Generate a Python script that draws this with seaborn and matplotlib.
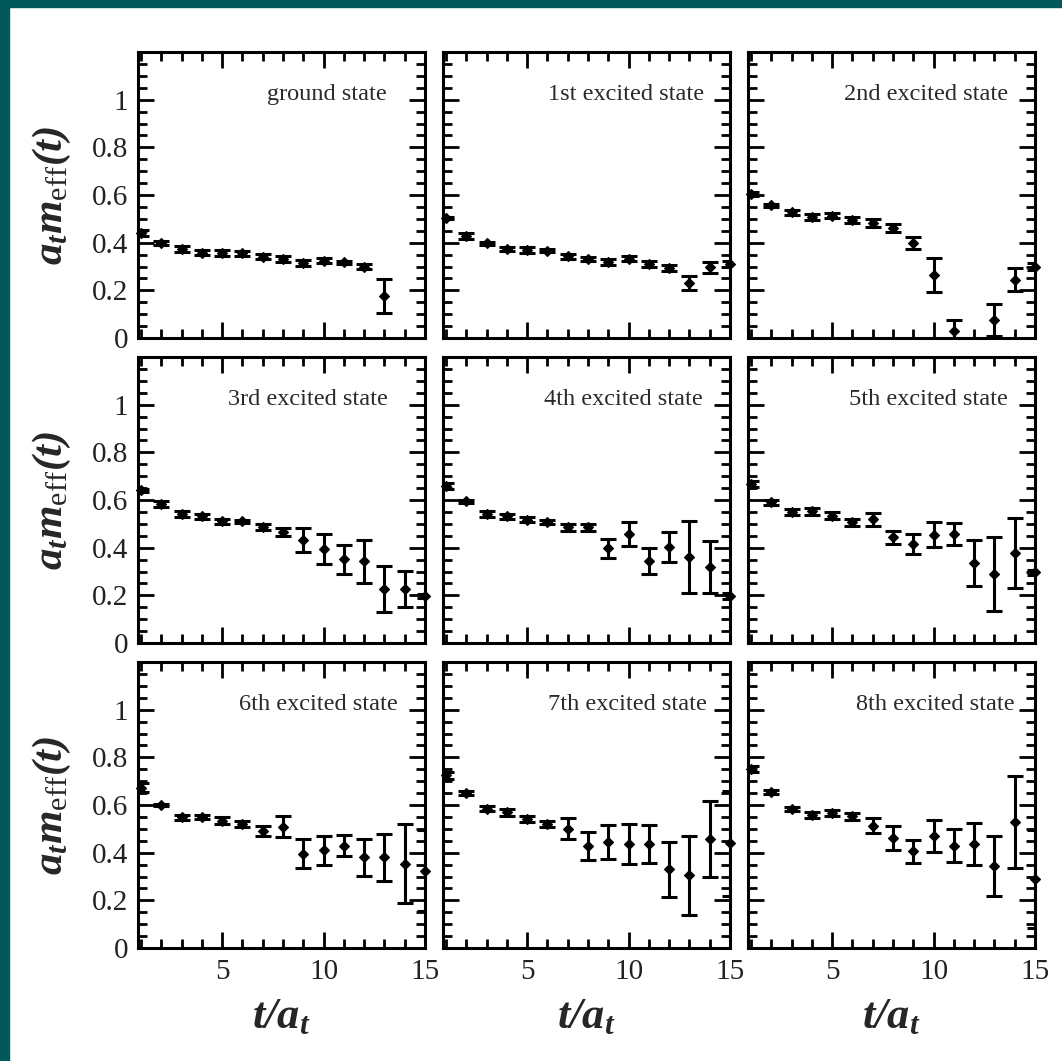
import numpy as np
import pandas as pd
import matplotlib
matplotlib.use("Agg")
import matplotlib.pyplot as plt
from matplotlib.patches import Rectangle
from matplotlib.ticker import MultipleLocator, FixedLocator, FuncFormatter
import seaborn as sns

# effective masses, t/a_t = 1..15 (nan = off the plot)
t = list(range(1, 16))
nan = np.nan

states = ["ground state", "1st excited state", "2nd excited state",
          "3rd excited state", "4th excited state", "5th excited state",
          "6th excited state", "7th excited state", "8th excited state"]

m_ground = [0.44, 0.40, 0.373, 0.358, 0.357, 0.356, 0.341, 0.332, 0.316, 0.325, 0.318, 0.30, 0.176, nan, nan]
e_ground = [0.012, 0.008, 0.012, 0.010, 0.012, 0.010, 0.010, 0.012, 0.012, 0.010, 0.006, 0.012, 0.070, nan, nan]

m_1st = [0.503, 0.429, 0.398, 0.373, 0.37, 0.367, 0.342, 0.33, 0.32, 0.333, 0.31, 0.293, 0.23, 0.297, 0.31]
e_1st = [0.005, 0.012, 0.006, 0.008, 0.012, 0.007, 0.012, 0.008, 0.012, 0.009, 0.012, 0.012, 0.030, 0.023, 0.012]

m_2nd = [0.605, 0.556, 0.527, 0.507, 0.513, 0.496, 0.482, 0.461, 0.398, 0.265, 0.03, nan, 0.076, 0.244, 0.30]
e_2nd = [0.008, 0.008, 0.012, 0.012, 0.010, 0.012, 0.018, 0.016, 0.026, 0.071, 0.044, nan, 0.066, 0.048, 0.015]

m_3rd = [0.64, 0.583, 0.542, 0.531, 0.51, 0.51, 0.486, 0.465, 0.433, 0.394, 0.352, 0.342, 0.226, 0.226, 0.197]
e_3rd = [0.006, 0.012, 0.012, 0.010, 0.010, 0.008, 0.012, 0.018, 0.050, 0.062, 0.061, 0.092, 0.096, 0.077, 0.010]

m_4th = [0.66, 0.595, 0.542, 0.531, 0.517, 0.508, 0.485, 0.485, 0.398, 0.457, 0.345, 0.402, 0.36, 0.318, 0.197]
e_4th = [0.012, 0.006, 0.012, 0.010, 0.010, 0.010, 0.015, 0.015, 0.040, 0.050, 0.055, 0.062, 0.152, 0.110, 0.012]

m_5th = [0.668, 0.591, 0.549, 0.552, 0.534, 0.506, 0.52, 0.444, 0.416, 0.454, 0.457, 0.335, 0.289, 0.377, 0.296]
e_5th = [0.012, 0.010, 0.012, 0.014, 0.014, 0.014, 0.027, 0.028, 0.041, 0.053, 0.047, 0.096, 0.155, 0.147, 0.012]

m_6th = [0.673, 0.60, 0.548, 0.55, 0.534, 0.52, 0.492, 0.508, 0.396, 0.41, 0.429, 0.38, 0.38, 0.354, 0.324]
e_6th = [0.020, 0.005, 0.012, 0.010, 0.014, 0.014, 0.020, 0.044, 0.060, 0.060, 0.044, 0.078, 0.100, 0.166, 0.170]

m_7th = [0.725, 0.65, 0.585, 0.569, 0.541, 0.52, 0.501, 0.429, 0.445, 0.436, 0.436, 0.33, 0.305, 0.459, 0.44]
e_7th = [0.014, 0.008, 0.012, 0.014, 0.014, 0.012, 0.043, 0.059, 0.072, 0.085, 0.080, 0.115, 0.167, 0.159, 0.220]

m_8th = [0.75, 0.655, 0.583, 0.559, 0.566, 0.552, 0.513, 0.461, 0.405, 0.47, 0.429, 0.436, 0.345, 0.53, 0.291]
e_8th = [0.012, 0.008, 0.010, 0.012, 0.012, 0.016, 0.032, 0.049, 0.049, 0.069, 0.070, 0.087, 0.126, 0.193, 0.206]

masses = [m_ground, m_1st, m_2nd, m_3rd, m_4th, m_5th, m_6th, m_7th, m_8th]
errors = [e_ground, e_1st, e_2nd, e_3rd, e_4th, e_5th, e_6th, e_7th, e_8th]

# label x-anchor (axes fraction), the labels are not all aligned in the original
label_x = [0.868, 0.909, 0.906, 0.871, 0.906, 0.906, 0.906, 0.92, 0.93]

sns.set_style("ticks")
plt.rcParams["font.family"] = ["Liberation Serif", "DejaVu Serif"]
plt.rcParams["mathtext.fontset"] = "custom"
plt.rcParams["mathtext.rm"] = "Liberation Serif"
plt.rcParams["mathtext.it"] = "Liberation Serif:italic"
plt.rcParams["mathtext.bf"] = "Liberation Serif:bold"
plt.rcParams["mathtext.bfit"] = "Liberation Serif:italic:bold"

W, H = 1062, 1061
fig = plt.figure(figsize=(W / 100, H / 100), dpi=100, facecolor="white")

teal = "#02585a"
fig.add_artist(Rectangle((0, 1 - 7 / H), 1, 7 / H, transform=fig.transFigure, color=teal, zorder=0))
fig.add_artist(Rectangle((0, 0), 9 / W, 1, transform=fig.transFigure, color=teal, zorder=0))

col_left = [138, 443, 748]
row_top = [52, 357, 662]
pw, ph = 287, 286

fmt = FuncFormatter(lambda v, p: "%g" % round(v, 2))

for i, name in enumerate(states):
    r, c = divmod(i, 3)
    ax = fig.add_axes([col_left[c] / W, 1 - (row_top[r] + ph) / H, pw / W, ph / H])
    df = pd.DataFrame({"t": t, "m": masses[i], "err": errors[i]}).dropna()

    ax.errorbar(df["t"], df["m"], yerr=df["err"], fmt="none", ecolor="black",
                elinewidth=2.2, capsize=5.5, capthick=2.2, zorder=3)
    sns.scatterplot(data=df, x="t", y="m", ax=ax, marker="D", s=26, color="black",
                    edgecolor="black", linewidth=0.8, zorder=4, clip_on=False, legend=False)

    ax.set_xlim(0.85, 15.0)
    ax.set_ylim(0, 1.2)
    ax.xaxis.set_major_locator(FixedLocator([5, 10, 15]))
    ax.xaxis.set_minor_locator(MultipleLocator(1))
    ax.yaxis.set_major_locator(FixedLocator([0, 0.2, 0.4, 0.6, 0.8, 1.0]))
    ax.yaxis.set_minor_locator(MultipleLocator(0.05))
    ax.yaxis.set_major_formatter(fmt)
    ax.tick_params(which="both", direction="in", top=True, right=True, width=2.0,
                   color="black", labelsize=21, labelcolor="#222222")
    ax.tick_params(which="major", length=11.5)
    ax.tick_params(axis="y", which="major", pad=7)
    ax.tick_params(axis="x", which="major", pad=8)
    ax.tick_params(which="minor", length=6.5)
    for s in ax.spines.values():
        s.set_linewidth(2.2)
        s.set_color("black")
    ax.set_xlabel("")
    ax.set_ylabel("")
    if c != 0:
        ax.tick_params(axis="y", labelleft=False)
    if r != 2:
        ax.tick_params(axis="x", labelbottom=False)

    ax.text(label_x[i], 0.853, name, transform=ax.transAxes, ha="right", va="center",
            fontsize=17.5, color="#2a2a2a")

ylab = r"$\mathbfit{a}_{\mathbfit{t}}\mathbfit{m}_{\mathrm{eff}}\mathbfit{(t)}$"
for r in range(3):
    yc = 1 - (row_top[r] + ph / 2) / H
    fig.text(52 / W, yc, ylab, rotation=90, ha="center", va="center", fontsize=31)

xlab = r"$\mathbfit{t/a}_{\mathbfit{t}}$"
for c in range(3):
    xc = (col_left[c] + pw / 2) / W
    fig.text(xc, 1 - 1017 / H, xlab, ha="center", va="center", fontsize=32)

fig.savefig("out.png", dpi=100, facecolor=fig.get_facecolor())
